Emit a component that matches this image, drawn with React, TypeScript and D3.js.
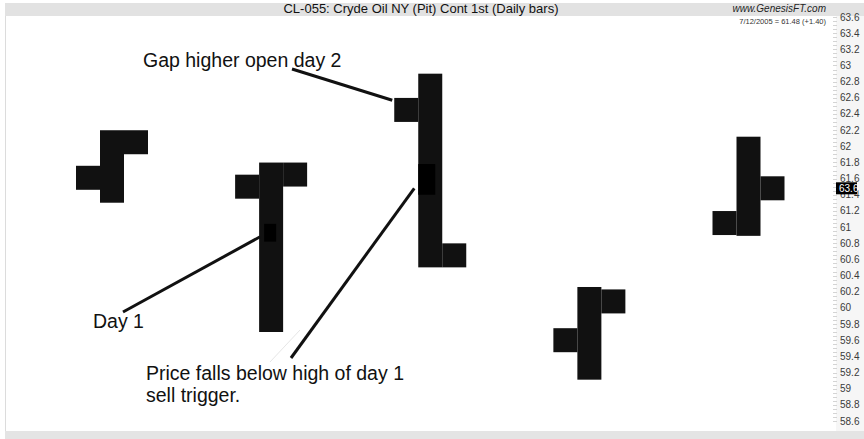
import React, { useEffect, useRef } from 'react';
import * as d3 from 'd3';

// daily OHLC, crude oil pit, July 2005
const days = ['7/6/2005', '7/7/2005', '7/8/2005', '7/11/2005', '7/12/2005'];
const opens = [61.61, 61.5, 62.45, 59.6, 61.05];
const highs = [62.05, 61.65, 62.75, 60.11, 61.97];
const lows = [61.45, 59.85, 60.65, 59.26, 61.04];
const closes = [62.05, 61.65, 60.65, 60.08, 61.48];

const tickLabels = d3.range(0, 26).map((i) => +(58.6 + i * 0.2).toFixed(1));

const title = 'CL-055: Cryde Oil NY (Pit) Cont 1st (Daily bars)';
const lastQuote = '7/12/2005 = 61.48 (+1.40)';

const App = () => {
  const chartRef = useRef<HTMLDivElement>(null);

  useEffect(() => {
    const width = 864;
    const height = 439;
    const plotLeft = 6;
    const plotRight = 836;
    const plotTop = 16;
    const plotBottom = 431;
    const barW = 24;
    const tickH = 24;
    const ink = '#111';
    const font = 'Liberation Sans, Arial, sans-serif';

    d3.select(chartRef.current).selectAll('*').remove();

    const svg = d3
      .select(chartRef.current)
      .append('svg')
      .attr('width', width)
      .attr('height', height)
      .style('display', 'block');

    svg.append('rect').attr('width', width).attr('height', height).attr('fill', '#fff');

    // title band, bottom band, axis strip
    svg.append('rect').attr('x', 5).attr('y', 3).attr('width', width - 5).attr('height', plotTop - 3).attr('fill', '#e2e2e2');
    svg.append('rect').attr('x', 5).attr('y', plotBottom).attr('width', width - 5).attr('height', height - plotBottom).attr('fill', '#e4e4e4');
    svg.append('rect').attr('x', plotRight).attr('y', plotTop).attr('width', width - plotRight).attr('height', plotBottom - plotTop).attr('fill', '#f6f6f6');
    svg.append('rect').attr('x', plotLeft).attr('y', plotTop).attr('width', plotRight - plotLeft).attr('height', plotBottom - plotTop).attr('fill', '#fff');
    svg.append('line').attr('x1', 5.5).attr('x2', 5.5).attr('y1', plotTop).attr('y2', plotBottom).attr('stroke', '#dcdcdc');

    const x = d3.scalePoint().domain(days).range([plotLeft + 106, plotRight - 87.5]);
    const y = d3.scaleLinear().domain([58.6, 63.6]).range([421, 17]);

    // right axis
    const minor = d3.range(0, 101).map((i) => 58.6 + i * 0.05);
    svg
      .append('g')
      .selectAll('line')
      .data(minor)
      .enter()
      .append('line')
      .attr('x1', plotRight - 3)
      .attr('x2', plotRight + 1)
      .attr('y1', (d) => Math.round(y(d)) + 0.5)
      .attr('y2', (d) => Math.round(y(d)) + 0.5)
      .attr('stroke', '#d4d4d4');

    svg
      .append('g')
      .selectAll('text')
      .data(tickLabels)
      .enter()
      .append('text')
      .attr('x', plotRight + 4)
      .attr('y', (d) => y(d))
      .attr('dy', '0.35em')
      .attr('font-family', font)
      .attr('font-size', 10)
      .attr('fill', '#3a3a3a')
      .text((d) => String(d));

    // last price marker
    const last = closes[closes.length - 1];
    svg.append('rect').attr('x', plotRight).attr('y', y(last) - 6).attr('width', 21).attr('height', 12).attr('fill', '#000');
    svg
      .append('text')
      .attr('x', plotRight + 3)
      .attr('y', y(last))
      .attr('dy', '0.35em')
      .attr('font-family', font)
      .attr('font-size', 10)
      .attr('fill', '#fff')
      .text('63.6');

    // header texts
    svg
      .append('text')
      .attr('x', (plotLeft + plotRight) / 2)
      .attr('y', 13)
      .attr('text-anchor', 'middle')
      .attr('font-family', font)
      .attr('font-size', 13)
      .attr('fill', '#111')
      .text(title);
    svg
      .append('text')
      .attr('x', 826)
      .attr('y', 12)
      .attr('text-anchor', 'end')
      .attr('font-family', font)
      .attr('font-style', 'italic')
      .attr('font-size', 10)
      .attr('fill', '#222')
      .text('www.GenesisFT.com');
    svg
      .append('text')
      .attr('x', 826)
      .attr('y', 24)
      .attr('text-anchor', 'end')
      .attr('font-family', font)
      .attr('font-size', 7.5)
      .attr('fill', '#333')
      .text(lastQuote);

    // OHLC bars
    const bars = days.map((d, i) => ({ day: d, o: opens[i], h: highs[i], l: lows[i], c: closes[i] }));
    const g = svg.append('g').attr('fill', ink);
    bars.forEach((b) => {
      const cx = x(b.day) as number;
      g.append('rect')
        .attr('x', cx - barW / 2)
        .attr('y', y(b.h) - tickH / 2)
        .attr('width', barW)
        .attr('height', y(b.l) - y(b.h) + tickH);
      g.append('rect')
        .attr('x', cx - barW / 2 - barW)
        .attr('y', y(b.o) - tickH / 2)
        .attr('width', barW)
        .attr('height', tickH);
      g.append('rect')
        .attr('x', cx + barW / 2)
        .attr('y', y(b.c) - tickH / 2)
        .attr('width', barW)
        .attr('height', tickH);
    });

    // darker highlight squares on the bars
    const marks = [
      { day: days[1], dx: -7, w: 12, top: 61.04, bottom: 60.82 },
      { day: days[2], dx: -12, w: 17, top: 61.78, bottom: 61.4 },
    ];
    marks.forEach((m) => {
      svg
        .append('rect')
        .attr('x', (x(m.day) as number) + m.dx)
        .attr('y', y(m.top))
        .attr('width', m.w)
        .attr('height', y(m.bottom) - y(m.top))
        .attr('fill', '#000');
    });

    // annotations
    const notes = [
      { lines: ['Gap higher open day 2'], tx: 143, ty: 67, sx: 292, sy: 69, day: days[2], dx: -38, price: 62.57 },
      { lines: ['Day 1'], tx: 93, ty: 328, sx: 123, sy: 312, day: days[1], dx: -11, price: 60.88 },
      { lines: ['Price falls below high of day 1', 'sell trigger.'], tx: 146, ty: 380, sx: 291, sy: 358, day: days[2], dx: -16, price: 61.48 },
    ];

    svg
      .append('line')
      .attr('x1', 270)
      .attr('y1', 362)
      .attr('x2', 300)
      .attr('y2', 330)
      .attr('stroke', '#e6e6e6')
      .attr('stroke-width', 1);

    notes.forEach((n) => {
      svg
        .append('line')
        .attr('x1', n.sx)
        .attr('y1', n.sy)
        .attr('x2', (x(n.day) as number) + n.dx)
        .attr('y2', y(n.price))
        .attr('stroke', ink)
        .attr('stroke-width', 3);
      n.lines.forEach((t, k) => {
        svg
          .append('text')
          .attr('x', n.tx)
          .attr('y', n.ty + k * 21.5)
          .attr('font-family', font)
          .attr('font-size', 19.5)
          .attr('fill', '#111')
          .text(t);
      });
    });
  }, []);

  return <div ref={chartRef} style={{ position: 'fixed', left: 0, top: 0 }}></div>;
};

export default App;
